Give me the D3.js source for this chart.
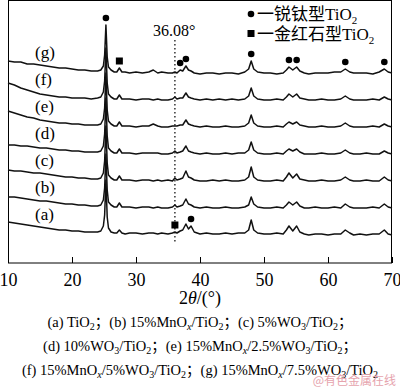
<!DOCTYPE html>
<html>
<head>
<meta charset="utf-8">
<script src="https://cdn.jsdelivr.net/npm/d3@7"></script>
<style>
  body { margin: 0; background: #fff; }
  svg { display: block; }
  text { font-family: "Liberation Serif", "Times New Roman", "Noto Sans CJK SC", serif; fill: #000; }
</style>
</head>
<body>
<div id="chart"></div>
<script>
// 2theta grid shared by every pattern
var angles = [10,11,12,13,14,15,16,17,18,19,20,21,22,23,24,24.5,24.9,25.1,25.3,25.5,25.7,26.1,26.6,27.0,27.4,27.8,28.3,29,30,31,32,32.7,33.4,34,35,35.7,36.08,36.4,36.9,37.3,37.8,38.2,38.6,39.1,40,41,42,43,44,45,46,47,47.6,48.0,48.4,49,50,51,52,53,53.5,53.9,54.5,55.1,55.6,56.3,57,58,59,60,61,62,62.7,63.4,64,65,66,67,68,68.8,69.4,70];

// intensities (a.u.), before stacking
var patA = [13,12,11,10,9,8,7,6,5,5,4,4,3,3,3,4,9,20,55,18,7,3,2,2,5,2,1,2,2,1,2,2,1,2,1,2,3,2,4,5,11,6,9,3,1,2,1,1,2,1,2,2,5,15,5,2,1,1,2,1,5,9,4,9,3,1,0,1,1,0,1,1,5,2,0,1,0,1,1,5,1,0];
var patB = [11,11,10,9,8,7,7,6,5,4,4,3,3,2,2,3,8,20,54,18,6,3,1,1,5,1,1,1,0,1,1,0,1,0,0,1,3,1,2,3,9,4,3,1,0,1,0,0,1,0,0,1,3,11,4,1,0,0,1,0,3,6,3,6,2,0,0,1,0,0,1,0,4,1,0,0,0,1,0,4,1,0];
var patC = [11,10,10,9,8,8,7,6,5,4,4,3,3,2,2,3,8,20,55,18,6,3,1,1,5,1,1,1,0,1,1,0,1,0,1,0,3,1,2,3,10,4,3,1,0,0,1,0,1,0,0,1,4,14,4,1,0,0,1,0,4,8,3,7,2,1,0,0,1,0,0,1,4,1,0,0,1,0,0,4,1,0];
var patD = [9,9,8,8,7,6,6,5,4,4,3,3,2,2,2,3,8,20,56,18,6,3,1,1,5,1,1,1,0,1,1,1,1,0,0,1,3,1,2,3,8,3,2,1,0,1,0,0,1,0,1,1,4,12,4,1,0,0,1,0,3,5,3,5,2,0,0,0,1,0,0,1,4,1,0,0,1,0,0,3,1,0];
var patE = [16,14,12,10,9,7,6,5,4,4,3,3,2,2,2,3,8,19,54,17,6,3,1,1,5,1,1,1,0,1,1,3,1,0,0,1,1,1,2,2,7,3,2,1,0,1,0,0,1,0,0,1,4,12,4,1,0,0,1,0,3,5,3,5,2,1,0,0,1,0,0,1,4,1,0,0,0,1,0,3,1,0];
var patF = [17,15,12,10,8,6,5,4,3,3,2,2,2,1,2,3,8,19,52,17,6,3,1,1,5,1,1,1,0,1,1,0,1,0,0,1,3,1,2,2,7,3,2,1,0,1,0,1,0,1,0,1,4,12,4,1,0,0,1,0,3,6,3,6,2,1,0,0,1,0,0,1,4,1,0,0,0,1,0,3,1,0];
var patG = [12,11,11,9,9,8,7,6,5,5,4,3,3,2,2,3,7,18,48,16,6,3,1,1,5,1,1,0,1,0,1,3,0,1,0,0,1,0,3,2,7,3,2,0,-1,0,0,-1,0,0,-1,1,4,12,4,1,0,0,-1,0,3,6,3,6,2,0,-1,0,0,0,1,1,4,1,0,0,0,-1,1,4,1,0];

var series = [patA, patB, patC, patD, patE, patF, patG];
var seriesLabels = ["(a)", "(b)", "(c)", "(d)", "(e)", "(f)", "(g)"];

// peak markers: [2theta, pattern index]
var anataseMarks = [[25.3,6],[36.9,6],[37.8,6],[48.0,6],[53.9,6],[55.1,6],[62.7,6],[68.8,6],[38.6,0]];
var rutileMarks = [[27.4,6],[36.08,0]];
var refLine = 36.08;

var xTicks = [10,20,30,40,50,60,70];
var captionLines = [
  [["(a) TiO"],["2","sub"],["；(b) 15%MnO"],["x","subi"],["/TiO"],["2","sub"],["；(c) 5%WO"],["3","sub"],["/TiO"],["2","sub"],["；"]],
  [["(d) 10%WO"],["3","sub"],["/TiO"],["2","sub"],["；(e) 15%MnO"],["x","subi"],["/2.5%WO"],["3","sub"],["/TiO"],["2","sub"],["；"]],
  [["(f) 15%MnO"],["x","subi"],["/5%WO"],["3","sub"],["/TiO"],["2","sub"],["；(g) 15%MnO"],["x","subi"],["/7.5%WO"],["3","sub"],["/TiO"],["2","sub"]]
];

var w = 400, h = 387;
var plotL = 8, plotR = 392, plotT = 0, plotB = 263;
var step = 27;

var svg = d3.select("#chart").append("svg")
  .attr("width", w).attr("height", h);

var x = d3.scaleLinear().domain([10, 70]).range([plotL, plotR]);
var y = d3.scaleLinear().domain([-28, 235]).range([plotB, plotT]);

// frame
svg.append("rect")
  .attr("x", plotL + 0.5).attr("y", plotT + 0.5)
  .attr("width", plotR - plotL - 1).attr("height", plotB - plotT - 0.5)
  .attr("fill", "none").attr("stroke", "#000").attr("stroke-width", 1);

// x axis, ticks pointing inward
var xAxis = d3.axisBottom(x).tickValues(xTicks).tickSize(-6).tickPadding(10).tickFormat(d3.format("d"));
var gx = svg.append("g").attr("transform", "translate(0," + plotB + ")").call(xAxis)
  .attr("font-family", "Liberation Serif");
gx.select(".domain").remove();
gx.selectAll("line").attr("stroke", "#000");
gx.selectAll("text").attr("font-size", "18px").attr("fill", "#000")
  .style("font-family", "'Liberation Serif', serif");

// dotted reference line
svg.append("line")
  .attr("x1", x(refLine)).attr("x2", x(refLine))
  .attr("y1", 40).attr("y2", 244)
  .attr("stroke", "#000").attr("stroke-width", 1.2).attr("stroke-dasharray", "1.5,2.5");
svg.append("text").attr("x", x(refLine) - 22).attr("y", 36)
  .attr("font-size", "16px").text("36.08°");

var line = d3.line()
  .x(function(d) { return x(d[0]); })
  .y(function(d) { return y(d[1]); });

series.forEach(function(vals, i) {
  var pts = angles.map(function(a, j) { return [a, vals[j] + i * step]; });
  svg.append("path")
    .attr("d", line(pts))
    .attr("fill", "none").attr("stroke", "#111").attr("stroke-width", 1.5)
    .attr("stroke-linejoin", "round");
  svg.append("text")
    .attr("x", 35).attr("y", y(i * step + 15))
    .attr("font-size", "17px").text(seriesLabels[i]);
});

function valueAt(a, i) {
  var j = angles.indexOf(a);
  return series[i][j] + i * step;
}

anataseMarks.forEach(function(m) {
  svg.append("circle")
    .attr("cx", x(m[0])).attr("cy", y(valueAt(m[0], m[1]) + 7))
    .attr("r", 3.3).attr("fill", "#000");
});
rutileMarks.forEach(function(m) {
  svg.append("rect")
    .attr("x", x(m[0]) - 3.5).attr("y", y(valueAt(m[0], m[1]) + 7) - 3.5)
    .attr("width", 7).attr("height", 7).attr("fill", "#000");
});

// legend
var legend = svg.append("g");
legend.append("circle").attr("cx", 251).attr("cy", 14).attr("r", 3.3).attr("fill", "#000");
legend.append("rect").attr("x", 247.5).attr("y", 30).attr("width", 7).attr("height", 7).attr("fill", "#000");
var l1 = legend.append("text").attr("x", 257).attr("y", 20).attr("font-size", "17px");
l1.append("tspan").text("一锐钛型TiO");
l1.append("tspan").attr("font-size", "11px").attr("dy", 4).text("2");
var l2 = legend.append("text").attr("x", 257).attr("y", 40).attr("font-size", "17px");
l2.append("tspan").text("一金红石型TiO");
l2.append("tspan").attr("font-size", "11px").attr("dy", 4).text("2");

// axis title
var title = svg.append("text").attr("x", 200).attr("y", 304)
  .attr("text-anchor", "middle").attr("font-size", "18px");
title.append("tspan").text("2");
title.append("tspan").attr("font-style", "italic").text("θ");
title.append("tspan").text("/(°)");

// caption
captionLines.forEach(function(parts, k) {
  var t = svg.append("text").attr("x", 200).attr("y", 327 + k * 24)
    .attr("text-anchor", "middle").attr("font-size", "14.5px");
  var prevSub = false;
  parts.forEach(function(p) {
    var s = t.append("tspan").text(p[0]);
    if (p[1]) {
      s.attr("font-size", "10px").attr("dy", prevSub ? 0 : 3);
      if (p[1] === "subi") s.attr("font-style", "italic");
      prevSub = true;
    } else {
      if (prevSub) s.attr("dy", -3);
      prevSub = false;
    }
  });
});

// watermark
svg.append("text").attr("x", 396).attr("y", 385).attr("text-anchor", "end")
  .attr("font-size", "12px").style("fill", "#e6a3ad").style("font-family", "'Noto Sans CJK SC', sans-serif")
  .text("@有色金属在线");
</script>
</body>
</html>
